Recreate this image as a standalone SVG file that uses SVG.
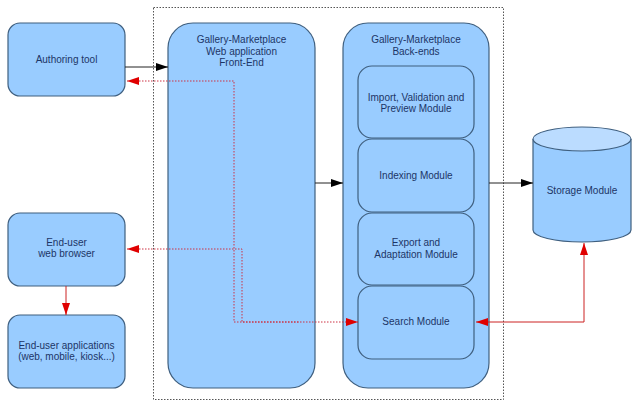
<svg xmlns="http://www.w3.org/2000/svg" width="632" height="402" viewBox="0 0 632 402">
<style>
.box{fill:#99ccff;stroke:#3f5f7f;stroke-width:1.2}
.t{font-family:"Liberation Sans",Arial,sans-serif;font-size:10px;fill:#1c3566;text-anchor:middle}
.blk{stroke:#222;stroke-width:1;fill:none}
.red{stroke:#cc2222;stroke-width:1;fill:none}
.reddot{stroke:#cc3344;stroke-width:1;fill:none;stroke-dasharray:1.5 1.5}
</style>
<defs>
<marker id="ab" markerWidth="12" markerHeight="8" refX="12" refY="4" orient="auto" markerUnits="userSpaceOnUse"><path d="M0,0 L12,4 L0,8 z" fill="#000"/></marker>
<marker id="ar" markerWidth="12" markerHeight="8" refX="12" refY="4" orient="auto" markerUnits="userSpaceOnUse"><path d="M0,0 L12,4 L0,8 z" fill="#e00000"/></marker>
<marker id="ars" markerWidth="12" markerHeight="8" refX="0" refY="4" orient="auto" markerUnits="userSpaceOnUse"><path d="M12,0 L0,4 L12,8 z" fill="#e00000"/></marker>
</defs>
<rect width="632" height="402" fill="#fff"/>
<rect x="153.5" y="7.5" width="350" height="392" fill="none" stroke="#555" stroke-width="1" stroke-dasharray="1.5 1.5"/>

<g id="authoring"><rect class="box" x="8" y="23" width="117" height="73" rx="12"/><text class="t" x="66.5" y="63">Authoring tool</text></g>
<g id="browser"><rect class="box" x="8" y="213" width="117" height="73" rx="12"/><text class="t" x="66.5" y="246">End-user</text><text class="t" x="66.5" y="257">web browser</text></g>
<g id="apps"><rect class="box" x="8" y="315" width="117" height="73" rx="12"/><text class="t" x="66.5" y="349">End-user applications</text><text class="t" x="66.5" y="360">(web, mobile, kiosk...)</text></g>
<g id="frontend"><rect class="box" x="168" y="23" width="147" height="365" rx="25"/><text class="t" x="241.5" y="43">Gallery-Marketplace</text><text class="t" x="241.5" y="55">Web application</text><text class="t" x="241.5" y="66">Front-End</text></g>
<g id="backends"><rect class="box" x="343" y="23" width="146" height="365" rx="25"/><text class="t" x="416" y="43">Gallery-Marketplace</text><text class="t" x="416" y="55">Back-ends</text></g>
<g id="import"><rect class="box" x="358" y="66" width="116" height="72" rx="14"/><text class="t" x="416" y="101">Import, Validation and</text><text class="t" x="416" y="112">Preview Module</text></g>
<g id="indexing"><rect class="box" x="358" y="139" width="116" height="73" rx="14"/><text class="t" x="416" y="179">Indexing Module</text></g>
<g id="export"><rect class="box" x="358" y="213" width="116" height="72" rx="14"/><text class="t" x="416" y="246">Export and</text><text class="t" x="416" y="258">Adaptation Module</text></g>
<g id="search"><rect class="box" x="358" y="286" width="116" height="73" rx="14"/><text class="t" x="416" y="325">Search Module</text></g>
<g id="storage"><path class="box" d="M533,139 L533,230 A49,12 0 0 0 631,230 L631,139"/><ellipse cx="582" cy="139" rx="49" ry="12" fill="#bbdcff" stroke="#3f5f7f" stroke-width="1.2"/><text class="t" x="582" y="194">Storage Module</text></g>

<g id="connectors">
<line class="blk" x1="125" y1="67" x2="168" y2="67" marker-end="url(#ab)"/>
<line class="blk" x1="315" y1="183" x2="343" y2="183" marker-end="url(#ab)"/>
<line class="blk" x1="489" y1="183" x2="533" y2="183" marker-end="url(#ab)"/>
<polyline class="reddot" points="127,81 234,81 234,322 358,322" marker-start="url(#ars)" marker-end="url(#ar)"/>
<polyline class="reddot" points="127,249 242,249 242,322 300,322" marker-start="url(#ars)"/>
<polyline class="red" points="476,322 584,322 584,243" marker-start="url(#ars)" marker-end="url(#ar)"/>
<line class="red" x1="66" y1="286" x2="66" y2="315" marker-end="url(#ar)"/>
</g>
</svg>
